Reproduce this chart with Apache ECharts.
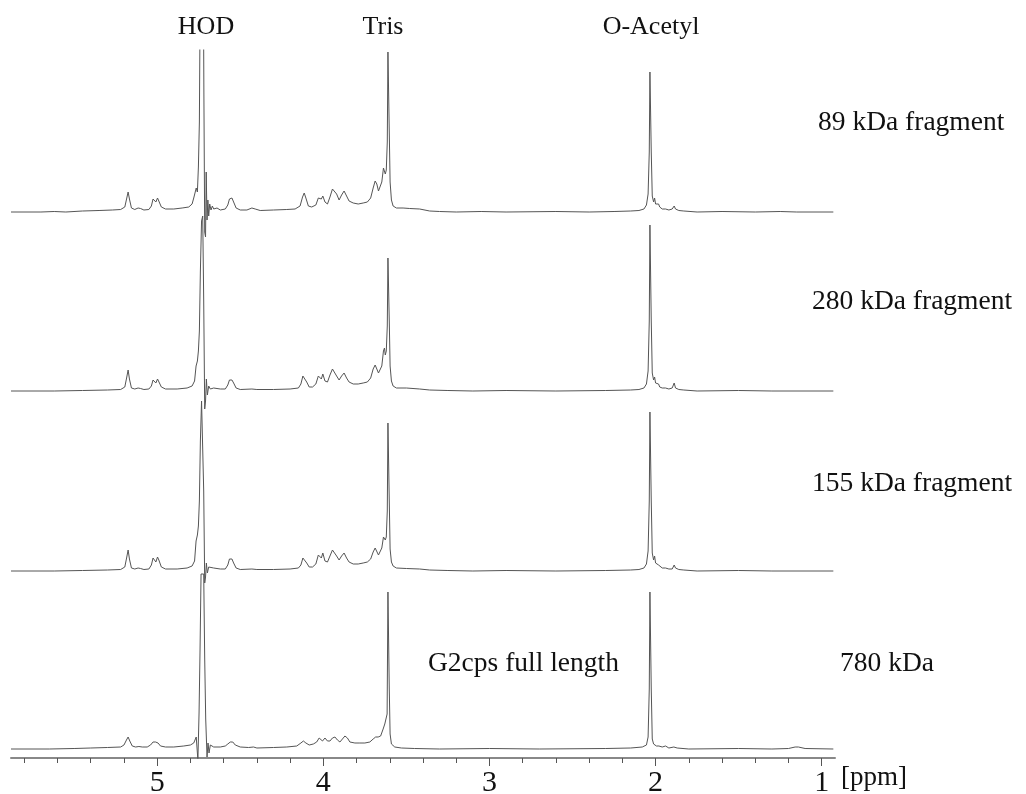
<!DOCTYPE html>
<html>
<head>
<meta charset="utf-8">
<title>1H NMR spectra of G2cps fragments</title>
<script src="https://cdn.jsdelivr.net/npm/echarts@6.0.0/dist/echarts.min.js"></script>
<style>
  html, body { margin: 0; padding: 0; background: #fff; }
  #main { width: 1026px; height: 794px; }
</style>
</head>
<body>
<div id="main"></div>
<script>
// chemical shift axis (ppm), reversed as usual for NMR
const ppmMin = 0.92;
const ppmMax = 5.88;
const majorTicks = [1, 2, 3, 4, 5];
const minorTicks = [1.2, 1.4, 1.6, 1.8, 2.2, 2.4, 2.6, 2.8, 3.2, 3.4, 3.6, 3.8,
  4.2, 4.4, 4.6, 4.8, 5.2, 5.4, 5.6, 5.8];

// stacking offsets (a.u.) of each spectrum and its label
const traceNames = ["89 kDa fragment", "280 kDa fragment", "155 kDa fragment", "780 kDa"];
const traceOffsets = [546, 367, 187, 9];

// [ppm, intensity a.u.]
const spec89 = [
  [5.88, 0], [5.70, 0], [5.62, 0.5], [5.55, 0], [5.45, 1], [5.35, 1.5], [5.27, 2], [5.22, 2.5],
  [5.195, 5], [5.183, 14], [5.175, 20], [5.167, 13], [5.155, 4], [5.135, 2.5], [5.115, 4], [5.10, 3.5],
  [5.08, 2], [5.05, 2.5], [5.035, 6], [5.025, 13], [5.018, 14], [5.008, 10], [4.998, 14], [4.99, 12],
  [4.975, 5], [4.95, 3], [4.90, 3], [4.85, 4], [4.81, 5], [4.79, 8], [4.78, 14], [4.772, 12],
  [4.765, 24], [4.758, 20], [4.752, 45], [4.746, 90], [4.738, 300], [4.730, 300], [4.724, 300],
  [4.719, 120], [4.714, -20], [4.709, -25], [4.705, 40], [4.700, -8], [4.695, 12], [4.690, -4],
  [4.684, 8], [4.676, 2], [4.668, 6], [4.66, 3], [4.64, 4], [4.62, 2], [4.59, 3], [4.575, 7],
  [4.565, 13], [4.558, 11], [4.55, 14], [4.54, 10], [4.525, 4], [4.50, 2], [4.46, 2], [4.43, 4],
  [4.41, 3], [4.38, 1.5], [4.30, 2], [4.22, 2.5], [4.17, 3], [4.14, 6], [4.125, 15], [4.115, 19],
  [4.105, 14], [4.09, 6], [4.07, 5], [4.045, 7], [4.03, 14], [4.02, 16], [4.012, 13], [4.003, 16],
  [3.99, 10], [3.975, 8], [3.96, 15], [3.945, 23], [3.935, 25], [3.92, 18], [3.905, 12], [3.89, 17],
  [3.875, 21], [3.86, 16], [3.845, 11], [3.82, 9], [3.79, 8], [3.76, 9], [3.735, 10], [3.715, 14],
  [3.70, 24], [3.688, 31], [3.678, 28], [3.668, 21], [3.66, 20], [3.648, 30], [3.638, 44],
  [3.632, 45], [3.627, 38], [3.621, 42], [3.615, 70], [3.611, 160], [3.607, 160], [3.603, 80],
  [3.598, 30], [3.59, 12], [3.58, 6], [3.56, 4], [3.52, 4], [3.48, 3.5], [3.42, 3], [3.36, 1],
  [3.30, 0.5], [3.20, 0], [3.05, 0.5], [2.90, 0], [2.60, 0.5], [2.40, 0], [2.25, 0.5], [2.15, 1],
  [2.10, 1.5], [2.07, 3], [2.055, 7], [2.045, 18], [2.038, 60], [2.034, 140], [2.030, 140],
  [2.026, 60], [2.02, 16], [2.012, 10], [2.006, 14], [2.0, 8], [1.99, 6], [1.982, 8], [1.975, 5],
  [1.96, 3], [1.948, 5], [1.94, 3], [1.92, 2], [1.90, 3], [1.888, 6], [1.88, 3], [1.86, 1.5],
  [1.83, 1], [1.75, 0], [1.60, 0.5], [1.40, 0], [1.25, 0.5], [1.15, 0], [0.93, 0]
];

const spec280 = [
  [5.88, 0], [5.62, 0], [5.45, 0.5], [5.30, 1], [5.22, 1.5], [5.195, 4], [5.183, 14], [5.175, 21],
  [5.167, 12], [5.155, 3], [5.135, 2], [5.115, 3], [5.10, 2.5], [5.08, 1.5], [5.05, 2], [5.035, 5],
  [5.025, 11], [5.018, 12], [5.008, 8], [4.998, 12], [4.99, 10], [4.975, 4], [4.95, 2], [4.88, 2],
  [4.82, 3], [4.79, 5], [4.775, 10], [4.766, 25], [4.758, 30], [4.752, 40], [4.746, 60],
  [4.740, 120], [4.733, 170], [4.726, 175], [4.720, 90], [4.714, -18], [4.709, -10], [4.704, 12],
  [4.698, -4], [4.690, 5], [4.68, 2], [4.66, 3], [4.62, 2], [4.59, 2], [4.575, 6], [4.565, 11],
  [4.558, 9], [4.55, 11], [4.54, 8], [4.525, 3], [4.50, 1.5], [4.43, 2], [4.40, 1.5], [4.30, 1.5],
  [4.20, 2], [4.15, 3], [4.135, 7], [4.123, 15], [4.113, 16], [4.10, 9], [4.085, 4], [4.065, 4],
  [4.045, 7], [4.03, 15], [4.02, 17], [4.012, 12], [4.003, 17], [3.99, 10], [3.975, 9], [3.96, 16],
  [3.945, 22], [3.935, 23], [3.92, 15], [3.905, 11], [3.89, 15], [3.875, 18], [3.86, 13],
  [3.845, 9], [3.82, 7], [3.79, 7], [3.76, 8], [3.735, 9], [3.715, 13], [3.70, 22], [3.688, 26],
  [3.678, 24], [3.668, 18], [3.66, 17], [3.648, 25], [3.638, 40], [3.632, 43], [3.627, 36],
  [3.621, 40], [3.615, 65], [3.611, 133], [3.607, 133], [3.603, 70], [3.598, 25], [3.59, 10],
  [3.58, 5], [3.56, 3], [3.50, 3], [3.42, 2], [3.36, 1], [3.25, 0.5], [3.10, 0], [2.90, 0.5],
  [2.60, 0], [2.30, 0.5], [2.15, 1], [2.10, 1.5], [2.07, 3], [2.055, 7], [2.045, 20], [2.038, 70],
  [2.034, 166], [2.030, 166], [2.026, 70], [2.02, 18], [2.012, 11], [2.006, 14], [2.0, 8],
  [1.99, 6], [1.982, 7], [1.975, 4], [1.96, 3], [1.948, 5], [1.94, 3], [1.92, 2], [1.90, 3],
  [1.888, 8], [1.88, 3], [1.86, 1.5], [1.83, 1], [1.75, 0], [1.50, 0.5], [1.30, 0], [0.93, 0]
];

const spec155 = [
  [5.88, 0], [5.62, 0], [5.45, 0.5], [5.30, 1], [5.22, 1.5], [5.195, 4], [5.183, 14], [5.175, 21],
  [5.167, 12], [5.155, 3], [5.135, 2], [5.115, 3], [5.10, 2.5], [5.08, 1.5], [5.05, 2], [5.035, 6],
  [5.025, 13], [5.018, 14], [5.008, 9], [4.998, 14], [4.99, 11], [4.975, 4], [4.95, 2], [4.88, 2],
  [4.82, 3], [4.79, 5], [4.775, 10], [4.766, 30], [4.758, 36], [4.752, 45], [4.746, 70],
  [4.740, 130], [4.733, 170], [4.726, 172], [4.720, 80], [4.714, -12], [4.709, -6], [4.704, 8],
  [4.698, -2], [4.690, 4], [4.68, 2], [4.66, 3], [4.62, 2], [4.59, 2], [4.575, 6], [4.565, 12],
  [4.558, 10], [4.55, 12], [4.54, 8], [4.525, 3], [4.50, 1.5], [4.43, 2], [4.40, 1.5], [4.30, 1.5],
  [4.20, 2], [4.15, 3], [4.135, 6], [4.123, 13], [4.113, 14], [4.10, 8], [4.085, 4], [4.065, 4],
  [4.045, 7], [4.03, 16], [4.02, 18], [4.012, 13], [4.003, 18], [3.99, 10], [3.975, 9], [3.96, 15],
  [3.945, 21], [3.935, 22], [3.92, 15], [3.905, 11], [3.89, 15], [3.875, 18], [3.86, 13],
  [3.845, 9], [3.82, 7], [3.79, 7], [3.76, 8], [3.735, 9], [3.715, 12], [3.70, 19], [3.688, 23],
  [3.678, 21], [3.668, 16], [3.66, 16], [3.648, 23], [3.638, 34], [3.632, 36], [3.627, 31],
  [3.621, 34], [3.615, 60], [3.611, 148], [3.607, 148], [3.603, 70], [3.598, 22], [3.59, 9],
  [3.58, 5], [3.56, 3], [3.50, 2.5], [3.42, 2], [3.36, 1], [3.25, 0.5], [3.10, 0], [2.90, 0.5],
  [2.60, 0], [2.30, 0.5], [2.15, 1], [2.10, 1.5], [2.07, 3], [2.055, 7], [2.045, 20], [2.038, 70],
  [2.034, 159], [2.030, 159], [2.026, 70], [2.02, 18], [2.012, 11], [2.006, 15], [2.0, 8],
  [1.99, 6], [1.982, 6], [1.975, 4], [1.96, 3], [1.948, 4], [1.94, 3], [1.92, 2], [1.90, 2],
  [1.888, 6], [1.88, 3], [1.86, 1.5], [1.83, 1], [1.75, 0], [1.50, 0.5], [1.30, 0], [0.93, 0]
];

const spec780 = [
  [5.88, 0], [5.65, 0], [5.50, 0.5], [5.40, 1], [5.30, 1.5], [5.22, 2], [5.20, 4], [5.185, 9],
  [5.175, 12], [5.165, 8], [5.15, 3], [5.13, 2], [5.11, 2.5], [5.09, 2], [5.06, 2], [5.04, 4],
  [5.025, 7], [5.01, 7], [4.995, 6], [4.98, 3], [4.95, 2], [4.90, 2], [4.84, 3], [4.80, 4],
  [4.78, 6], [4.765, 12], [4.755, -11], [4.748, 36], [4.742, 100], [4.736, 175], [4.728, 175],
  [4.720, 175], [4.714, 90], [4.708, 30], [4.70, -8], [4.694, 6], [4.688, -4], [4.68, 4],
  [4.66, 2], [4.62, 2], [4.59, 3], [4.575, 5], [4.56, 7], [4.545, 7], [4.53, 4], [4.50, 2],
  [4.45, 1.5], [4.42, 2], [4.40, 1], [4.30, 1.5], [4.22, 2], [4.16, 3], [4.135, 6], [4.12, 8],
  [4.105, 6], [4.085, 4], [4.06, 5], [4.04, 7], [4.025, 11], [4.015, 10], [4.005, 8], [3.99, 11],
  [3.975, 8], [3.96, 8], [3.945, 11], [3.93, 12], [3.915, 9], [3.90, 7], [3.885, 10], [3.87, 13],
  [3.855, 11], [3.84, 7], [3.81, 6], [3.78, 6], [3.75, 6], [3.72, 7], [3.70, 10], [3.685, 12],
  [3.67, 12], [3.655, 13], [3.64, 20], [3.63, 25], [3.622, 24], [3.616, 35], [3.611, 157],
  [3.607, 157], [3.603, 60], [3.598, 15], [3.59, 5], [3.57, 2], [3.53, 1], [3.45, 0.5], [3.30, 0],
  [3.00, 0.5], [2.70, 0], [2.30, 0.5], [2.15, 1], [2.08, 2], [2.055, 4], [2.045, 12], [2.038, 60],
  [2.034, 157], [2.030, 157], [2.026, 60], [2.02, 10], [2.012, 5], [2.005, 6], [1.995, 3],
  [1.98, 3], [1.96, 2], [1.94, 3], [1.92, 1], [1.89, 2], [1.87, 1], [1.80, 0], [1.50, 0.5],
  [1.30, 0], [1.20, 0.5], [1.16, 2], [1.14, 2], [1.10, 0.5], [0.93, 0]
];

const spectra = [spec89, spec280, spec155, spec780];

const serif = '"Liberation Serif", "Times New Roman", serif';

const chart = echarts.init(document.getElementById("main"));

const series = spectra.map((spec, i) => ({
  name: traceNames[i],
  type: "line",
  data: spec.map(p => [p[0], p[1] + traceOffsets[i]]),
  showSymbol: false,
  symbol: "none",
  clip: true,
  lineStyle: { color: "#555", width: 1 },
  emphasis: { disabled: true }
}));

const textEl = (text, x, y, align, size) => ({
  type: "text",
  x: x,
  y: y,
  style: {
    text: text,
    fill: "#111",
    font: size + "px " + serif,
    textAlign: align,
    textVerticalAlign: "middle"
  }
});

const option = {
  animation: false,
  backgroundColor: "#fff",
  grid: { left: 11, right: 191, top: 50, bottom: 36, outerBoundsMode: "none" },
  xAxis: [
    {
      type: "value",
      min: ppmMin,
      max: ppmMax,
      inverse: true,
      // axis is inverted, so the low-ppm end (right side) is "start"
      name: "[ppm]",
      nameLocation: "start",
      nameGap: 6,
      nameTextStyle: {
        fontFamily: serif,
        fontSize: 27,
        color: "#111",
        verticalAlign: "top",
        lineHeight: 40
      },
      splitLine: { show: false },
      axisLine: { lineStyle: { color: "#888", width: 2 } },
      axisTick: { customValues: majorTicks, length: 8, lineStyle: { color: "#555" } },
      axisLabel: {
        customValues: majorTicks,
        fontFamily: serif,
        fontSize: 30,
        color: "#111",
        margin: 10
      }
    },
    {
      type: "value",
      min: ppmMin,
      max: ppmMax,
      inverse: true,
      position: "bottom",
      splitLine: { show: false },
      axisLine: { show: false },
      axisTick: { customValues: minorTicks, length: 5, lineStyle: { color: "#555" } },
      axisLabel: { show: false }
    }
  ],
  yAxis: { type: "value", min: 0, max: 708, show: false },
  series: series,
  graphic: [
    textEl("HOD", 206, 27, "center", 26),
    textEl("Tris", 383, 27, "center", 26),
    textEl("O-Acetyl", 651, 27, "center", 26),
    textEl(traceNames[0], 818, 123, "left", 27.5),
    textEl(traceNames[1], 812, 302, "left", 27.5),
    textEl(traceNames[2], 812, 484, "left", 27.5),
    textEl(traceNames[3], 840, 664, "left", 27.5),
    textEl("G2cps full length", 428, 664, "left", 27.5)
  ]
};

chart.setOption(option);
</script>
</body>
</html>
